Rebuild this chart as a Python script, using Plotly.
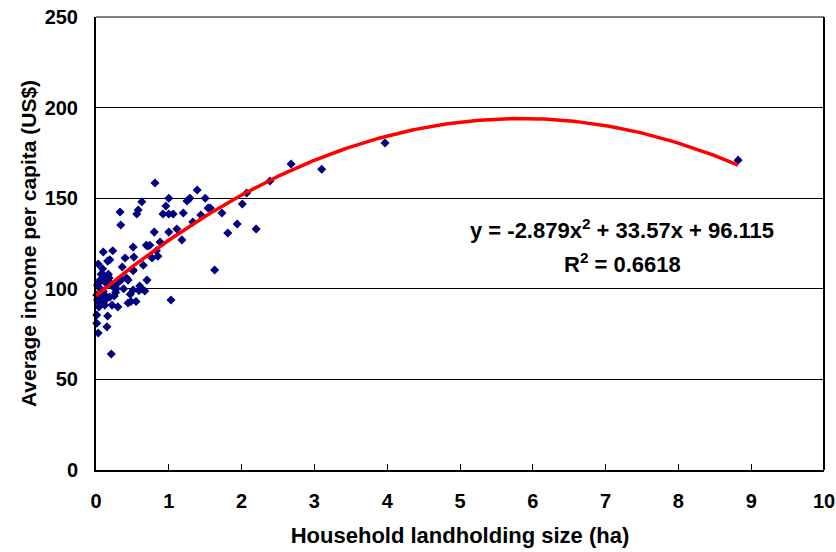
import plotly.graph_objects as go
import numpy as np

# Household landholding size (ha)
land_ha = [8.82, 3.97, 3.10, 2.68, 2.39, 2.20, 2.07, 2.01, 1.94, 1.81, 1.73, 1.63, 1.57, 1.50,
           1.54, 1.44, 1.39, 1.33, 1.29, 1.25, 1.20, 1.18, 1.11, 1.00, 1.00, 0.96, 0.92, 1.00, 1.06,
           0.81, 0.80, 0.88, 0.85, 0.77, 0.71, 0.69, 0.65, 0.63, 0.58, 0.56, 0.51, 0.52, 0.51,
           0.40, 0.33, 0.34, 0.23, 0.10, 0.16, 0.19, 0.03, 0.51, 0.70, 0.60, 0.67, 0.51, 0.47,
           0.44, 0.30, 0.26, 0.12, 0.16, 0.08, 0.03, 0.05, 0.01, 0.10, 0.08, 0.03, 0.12, 0.22,
           0.30, 0.44, 0.48, 0.55, 1.03, 0.59, 0.19, 0.01, 0.16, 0.01, 0.15, 0.03, 0.21, 0.02,
           0.06, 0.09, 0.14, 0.18, 0.24, 0.27, 0.35, 0.38, 0.42, 0.05, 0.07, 0.11, 0.13, 0.20,
           0.25, 0.04, 0.02, 0.09, 0.17, 0.28, 0.36, 0.62, 0.74, 0.83]
# Average income per capita (US$)
income_usd = [171.0, 180.5, 166.0, 168.9, 159.5, 133.0, 152.9, 146.8, 135.8, 130.8, 141.8, 110.4, 144.6, 150.0,
              144.6, 140.7, 154.5, 136.9, 150.0, 148.5, 141.8, 127.0, 133.0, 131.3, 150.0, 145.7, 141.3, 141.3, 141.3,
              158.4, 131.3, 125.8, 118.0, 117.0, 123.6, 124.0, 113.0, 148.0, 143.5, 141.3, 123.0, 117.5, 110.4,
              117.0, 142.4, 135.2, 121.0, 120.3, 115.3, 116.0, 113.7, 110.0, 104.8, 101.5, 98.8, 99.3, 97.0,
              104.8, 103.2, 100.4, 106.5, 107.5, 104.8, 103.2, 100.4, 96.6, 98.5, 93.8, 92.7, 91.0, 91.0,
              90.0, 92.2, 93.0, 93.0, 93.8, 99.0, 95.5, 85.5, 85.0, 81.0, 79.0, 75.6, 64.0, 102.0,
              105.0, 108.0, 103.0, 106.0, 101.0, 98.0, 105.0, 100.0, 106.0, 95.0, 108.0, 97.0, 94.0, 103.0,
              96.0, 90.0, 94.0, 111.0, 108.0, 100.0, 112.0, 100.0, 124.0, 121.0]

# Quadratic trend coefficients as printed on the chart
trend_coef = [-2.879, 33.57, 96.115]
trend_x_range = [0.0, 8.82]

xt = np.linspace(trend_x_range[0], trend_x_range[1], 200)
yt = np.polyval(trend_coef, xt)

font_family = "Liberation Sans, Arial, sans-serif"

fig = go.Figure()
fig.add_trace(go.Scatter(
    x=land_ha, y=income_usd, mode="markers",
    marker=dict(symbol="diamond", size=7, color="#000080", line=dict(width=0)),
    showlegend=False, cliponaxis=False))
fig.add_trace(go.Scatter(
    x=xt, y=yt, mode="lines", line=dict(color="#ff0000", width=3.5),
    showlegend=False))

fig.update_layout(
    width=836, height=552,
    margin=dict(l=96, r=12, t=17, b=82),
    paper_bgcolor="white", plot_bgcolor="white",
    font=dict(family=font_family, size=20, color="black"),
    xaxis=dict(
        range=[0, 10], dtick=1, tick0=0, showgrid=False, automargin=False,
        showline=True, linecolor="black", linewidth=2, mirror=False,
        ticks="inside", ticklen=6, tickcolor="black", tickwidth=1,
        ticklabelstandoff=12,
        tickfont=dict(size=20, family=font_family, weight="bold"),
        title=dict(text="<b>Household landholding size (ha)</b>", standoff=17,
                   font=dict(size=22, family=font_family)),
        zeroline=False,
    ),
    yaxis=dict(
        range=[0, 250], dtick=50, tick0=0, showgrid=True, gridcolor="#000000", gridwidth=1,
        automargin=False,
        showline=True, linecolor="black", linewidth=2, mirror=False,
        ticks="inside", ticklen=6, tickcolor="black", tickwidth=1,
        ticklabelstandoff=12,
        tickfont=dict(size=20, family=font_family, weight="bold"),
        title=dict(text="<b>Average income per capita (US$)</b>", standoff=2,
                   font=dict(size=21, family=font_family)),
        zeroline=False,
    ),
    shapes=[
        dict(type="line", xref="paper", yref="paper", x0=0, x1=1, y0=1, y1=1,
             line=dict(color="#808080", width=2)),
        dict(type="line", xref="paper", yref="paper", x0=1, x1=1, y0=0, y1=1,
             line=dict(color="black", width=2)),
    ],
    annotations=[
        dict(x=7.23, y=133, xref="x", yref="y", showarrow=False,
             text="<b>y = -2.879x<sup>2</sup> + 33.57x + 96.115</b>",
             font=dict(size=22, family=font_family, color="black")),
        dict(x=7.23, y=114.5, xref="x", yref="y", showarrow=False,
             text="<b>R<sup>2</sup> = 0.6618</b>",
             font=dict(size=22, family=font_family, color="black")),
    ],
)

fig.write_html("out.html", config={"displayModeBar": False},
               post_script="document.body.style.margin='0';document.body.style.padding='0';")
